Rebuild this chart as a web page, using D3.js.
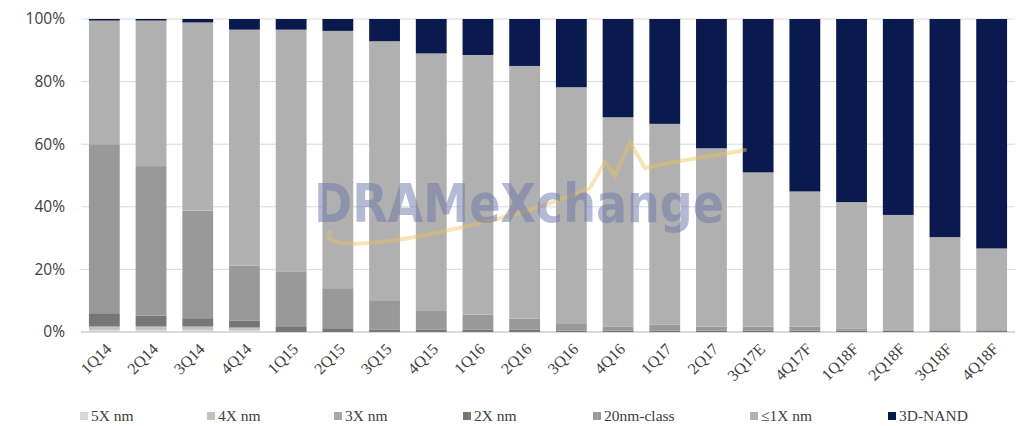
<!DOCTYPE html>
<html><head><meta charset="utf-8">
<script src="https://cdn.jsdelivr.net/npm/d3@7"></script>
<style>body{margin:0;background:#fff}svg{display:block}</style>
</head><body>
<svg id="c" width="1024" height="426"></svg>
<script>
const quarters = ["1Q14","2Q14","3Q14","4Q14","1Q15","2Q15","3Q15","4Q15","1Q16","2Q16","3Q16","4Q16","1Q17","2Q17","3Q17E","4Q17F","1Q18F","2Q18F","3Q18F","4Q18F"];
const seriesNames = ["5X nm","4X nm","3X nm","2X nm","20nm-class","≤1X nm","3D-NAND"];
const s5X   = [0.7,0.7,0.7,0.6,0,0,0,0,0,0,0,0,0,0,0,0,0,0,0,0];
const s4X   = [0.8,0.8,0.7,0.6,0,0,0,0,0,0,0,0,0,0,0,0,0,0,0,0];
const s3X   = [0.4,0.4,0.4,0.4,0,0,0,0,0,0,0,0,0,0,0,0,0,0,0,0];
const s2X   = [4.1,3.3,2.6,2.1,1.6,1.2,0.8,0.7,0.8,0.7,0.4,0.4,0.4,0.4,0.4,0.4,0.4,0.4,0.3,0.3];
const s20nm = [54.0,47.8,34.4,17.5,17.6,12.8,9.1,6.0,4.7,3.6,2.4,1.4,1.9,1.3,1.3,1.3,0.6,0.4,0.3,0.3];
const s1X   = [39.5,46.5,60.1,75.4,77.4,82.2,83.0,82.3,83.0,80.7,75.4,66.8,64.2,57.0,49.3,43.2,40.5,36.6,29.7,26.1];
const s3D   = [0.5,0.5,1.1,3.4,3.4,3.8,7.1,11.0,11.5,15.0,21.8,31.4,33.5,41.3,49.0,55.1,58.5,62.6,69.7,73.3];
const yTicks = [0,20,40,60,80,100];

const colors = ["#d6d6d6","#bfbfbf","#a8a8a8","#767676","#999999","#b0b0b0","#0b1a4e"];
const seriesArrays = [s5X,s4X,s3X,s2X,s20nm,s1X,s3D];

const rows = quarters.map((q,i)=>{const r={q}; seriesNames.forEach((n,k)=>r[n]=seriesArrays[k][i]); return r;});
const stack = d3.stack().keys(seriesNames)(rows);

const svg = d3.select("#c");
const x = d3.scaleBand().domain(quarters).range([81,1015]).paddingInner(0.34).paddingOuter(0.17);
const y = d3.scaleLinear().domain([0,100]).range([332,19]);

// gridlines
svg.append("g").selectAll("line").data(yTicks).join("line")
  .attr("x1",81).attr("x2",1015).attr("y1",d=>y(d)).attr("y2",d=>y(d))
  .attr("stroke","#d9d9d9").attr("stroke-width",d=>d===0?2:1);

// y labels
svg.append("g").selectAll("text").data(yTicks).join("text")
  .attr("x",65).attr("y",d=>y(d)).attr("dy","0.35em").attr("text-anchor","end")
  .attr("font-family","Open Sans, Liberation Sans, sans-serif").attr("font-size",15.5).attr("fill","#404040")
  .text(d=>d+"%");

// bars
svg.append("g").selectAll("g").data(stack).join("g").attr("fill",(d,i)=>colors[i])
  .selectAll("rect").data(d=>d).join("rect")
  .attr("x",d=>x(d.data.q)).attr("width",x.bandwidth())
  .attr("y",d=>y(d[1])).attr("height",d=>Math.max(0,y(d[0])-y(d[1])));

// x labels
svg.append("g").selectAll("text").data(quarters).join("text")
  .attr("transform",d=>`translate(${x(d)+x.bandwidth()/2+8},${350}) rotate(-45)`)
  .attr("text-anchor","end")
  .attr("font-family","Liberation Serif, DejaVu Serif, serif").attr("font-size",16).attr("fill","#404040")
  .text(d=>d);

// watermark
const wm = svg.append("g");
wm.append("path")
  .attr("d","M330,232 C320,250 380,245 440,232 C500,220 550,205 590,188 L605,162 L615,176 L630,142 L645,168 C680,160 715,156 745,150")
  .attr("fill","none").attr("stroke","#f0c060").attr("stroke-width",4).attr("stroke-linecap","round").attr("opacity",0.45);
wm.append("text").attr("x",314).attr("y",222)
  .attr("font-family","DejaVu Sans, sans-serif").attr("font-weight","bold").attr("font-size",54)
  .attr("fill","#6c78aa").attr("opacity",0.5).attr("textLength",410).attr("lengthAdjust","spacingAndGlyphs")
  .text("DRAMeXchange");

// legend
const legX = [80,207,334,463,593,750,888];
const lg = svg.append("g").selectAll("g").data(seriesNames).join("g")
  .attr("transform",(d,i)=>`translate(${legX[i]},0)`);
lg.append("rect").attr("x",0).attr("y",412).attr("width",8).attr("height",8).attr("fill",(d,i)=>colors[i]);
lg.append("text").attr("x",11).attr("y",421)
  .attr("font-family","Liberation Serif, DejaVu Serif, serif").attr("font-size",15.5).attr("fill","#404040")
  .text(d=>d);
</script>
</body></html>
